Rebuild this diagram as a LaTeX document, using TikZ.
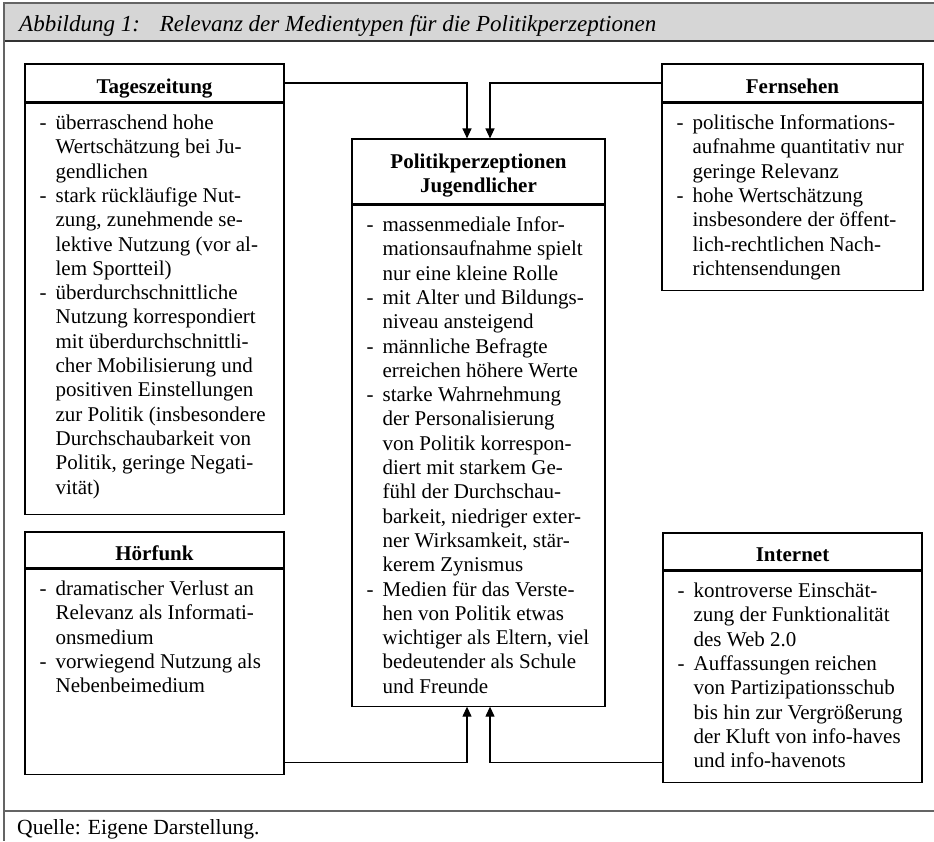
\documentclass[tikz,border=0pt]{standalone}
\usepackage{fontspec}
\setmainfont{Liberation Serif}
\usepackage{tikz}
\usetikzlibrary{arrows.meta}

\definecolor{bandgray}{RGB}{214,214,214}
\definecolor{framegray}{RGB}{100,100,100}

% one bullet of a box: dash, then hanging lines
\newcommand{\itm}{\par\hangindent=16pt\hangafter=1\noindent\makebox[16pt][l]{-}}
\newcommand{\boxtext}[1]{\parbox[t]{250pt}{\fontsize{21}{24.3}\selectfont\parindent=0pt #1}}

\begin{document}
\begin{tikzpicture}[x=1pt,y=-1pt,
    head/.style={draw,line width=1.1pt,inner sep=0pt,align=center,
      font=\fontsize{21}{24.3}\selectfont\bfseries},
    onehead/.style={head,text height=20pt,text depth=0pt},
    body/.style={draw,line width=1.1pt,inner sep=0pt,anchor=north},
    txt/.style={anchor=base west,inner sep=0pt,xshift=15pt,yshift=-27pt},
    link/.style={line width=1.2pt,-{Triangle[length=10pt,width=9pt]}}]
    \useasboundingbox (0,0) rectangle (934,841);
    % frame and title band
    \fill[bandgray] (4,3) rectangle (934,41);
    \draw[framegray,line width=2pt] (4,3) -- (934,3);
    \draw[black!80,line width=1.2pt] (4,41) -- (934,41);
    \draw[framegray,line width=1.5pt] (4,2) -- (4,841);
    \draw[framegray,line width=1.5pt] (4,811) -- (934,811);
    \node[anchor=base west,inner sep=0pt,font=\fontsize{23}{23}\selectfont\itshape] (titel) at (19,31)
      {Abbildung 1:\hspace{20pt}Relevanz der Medientypen für die Politikperzeptionen};
    \node[anchor=base west,inner sep=0pt,font=\fontsize{21.6}{21.6}\selectfont] (quelle) at (17,834)
      {Quelle: Eigene Darstellung.};
    % Tageszeitung
    \node[onehead,minimum width=259pt,minimum height=38pt] (tz) at (154.5,83) {Tageszeitung};
    \node[body,minimum width=259pt,minimum height=411pt] (tzb) at (tz.south) {};
    \node[txt] (tzt) at (tzb.north west) {\boxtext{%
      \itm überraschend hohe\newline Wertschätzung bei Ju-\newline gendlichen
      \itm stark rückläufige Nut-\newline zung, zunehmende se-\newline lektive Nutzung (vor al-\newline lem Sportteil)
      \itm überdurchschnittliche\newline Nutzung korrespondiert\newline mit überdurchschnittli-\newline cher Mobilisierung und\newline positiven Einstellungen\newline zur Politik (insbesondere\newline Durchschaubarkeit von\newline Politik, geringe Negati-\newline vität)}};
    % Hoerfunk
    \node[onehead,minimum width=259pt,minimum height=36pt] (hf) at (154.5,550) {Hörfunk};
    \node[body,minimum width=259pt,minimum height=205pt] (hfb) at (hf.south) {};
    \node[txt] (hft) at (hfb.north west) {\boxtext{%
      \itm dramatischer Verlust an\newline Relevanz als Informati-\newline onsmedium
      \itm vorwiegend Nutzung als\newline Nebenbeimedium}};
    % Politikperzeptionen
    \node[head,minimum width=253pt,minimum height=65pt] (pp) at (478.5,171.5)
      {\rule{0pt}{23pt}Politikperzeptionen\\Jugendlicher};
    \node[body,minimum width=253pt,minimum height=501pt] (ppb) at (pp.south) {};
    \node[txt] (ppt) at (ppb.north west) {\boxtext{%
      \itm massenmediale Infor-\newline mationsaufnahme spielt\newline nur eine kleine Rolle
      \itm mit Alter und Bildungs-\newline niveau ansteigend
      \itm männliche Befragte\newline erreichen höhere Werte
      \itm starke Wahrnehmung\newline der Personalisierung\newline von Politik korrespon-\newline diert mit starkem Ge-\newline fühl der Durchschau-\newline barkeit, niedriger exter-\newline ner Wirksamkeit, stär-\newline kerem Zynismus
      \itm Medien für das Verste-\newline hen von Politik etwas\newline wichtiger als Eltern, viel\newline bedeutender als Schule\newline und Freunde}};
    % Fernsehen
    \node[onehead,minimum width=261pt,minimum height=38pt] (fs) at (792.5,83) {Fernsehen};
    \node[body,minimum width=261pt,minimum height=187pt] (fsb) at (fs.south) {};
    \node[txt] (fst) at (fsb.north west) {\boxtext{%
      \itm politische Informations-\newline aufnahme quantitativ nur\newline geringe Relevanz
      \itm hohe Wertschätzung\newline insbesondere der öffent-\newline lich-rechtlichen Nach-\newline richtensendungen}};
    % Internet
    \node[onehead,minimum width=259pt,minimum height=37pt] (in) at (792.5,551.5) {Internet};
    \node[body,minimum width=259pt,minimum height=211pt] (inb) at (in.south) {};
    \node[txt] (int) at (inb.north west) {\boxtext{%
      \itm kontroverse Einschät-\newline zung der Funktionalität\newline des Web 2.0
      \itm Auffassungen reichen\newline von Partizipationsschub\newline bis hin zur Vergrößerung\newline der Kluft von info-haves\newline und info-havenots}};
    % arrows into the centre box
    \draw[link] (tz.east) -| ([xshift=-11.5pt]pp.north);
    \draw[link] (fs.west) -| ([xshift=11.5pt]pp.north);
    \draw[link] ([yshift=12pt]hfb.south east) -| ([xshift=-11.5pt]ppb.south);
    \draw[link] ([yshift=20pt]inb.south west) -| ([xshift=11.5pt]ppb.south);
\end{tikzpicture}
\end{document}
